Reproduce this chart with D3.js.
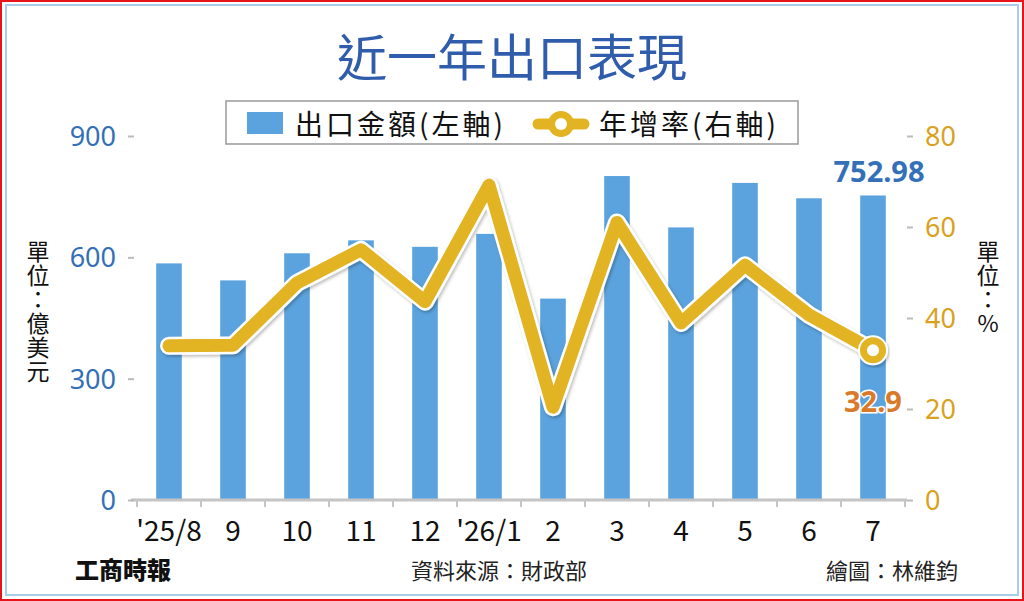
<!DOCTYPE html>
<html>
<head>
<meta charset="utf-8">
<script src="https://cdn.jsdelivr.net/npm/d3@7"></script>
<style>
  html, body { margin: 0; padding: 0; background: #fff; }
  svg { display: block; font-family: "Noto Sans CJK TC", "Noto Sans", sans-serif; }
</style>
</head>
<body>
<script>
const months = ["'25/8", "9", "10", "11", "12", "'26/1", "2", "3", "4", "5", "6", "7"]
const exportValue = [585, 543, 610, 642, 626, 658, 498, 801, 674, 784, 746, 752.98]
const growthRate = [33.9, 34.0, 47.7, 55.0, 43.6, 69.2, 20.4, 61.0, 38.9, 51.6, 40.7, 32.9]
const leftTicks = [0, 300, 600, 900]
const rightTicks = [0, 20, 40, 60, 80]

const W = 1024, H = 601
const margin = ({top: 136, right: 119, bottom: 101, left: 137})

const svg = d3.select("body").append("svg")
  .attr("width", W)
  .attr("height", H)

// drop shadow for the line
const defs = svg.append("defs")
const f = defs.append("filter").attr("id", "shadow")
  .attr("x", "-10%").attr("y", "-10%").attr("width", "120%").attr("height", "120%")
f.append("feDropShadow")
  .attr("dx", 1.5).attr("dy", 2).attr("stdDeviation", 1.5)
  .attr("flood-color", "#000").attr("flood-opacity", 0.25)

// frame
svg.append("rect").attr("x", 1).attr("y", 1).attr("width", W - 2).attr("height", H - 2)
  .attr("fill", "none").attr("stroke", "#e8141b").attr("stroke-width", 2)
svg.append("rect").attr("x", 6).attr("y", 5).attr("width", W - 12).attr("height", H - 11)
  .attr("fill", "none").attr("stroke", "#a9cde9").attr("stroke-width", 2)

// title
svg.append("text")
  .attr("x", 512).attr("y", 76)
  .attr("text-anchor", "middle")
  .style("font-size", "50px")
  .style("font-weight", 400)
  .style("fill", "#2f5dab")
  .text("近一年出口表現")

const x = d3.scaleBand()
  .domain(months)
  .range([margin.left, W - margin.right])
  .paddingInner(0.6)
  .paddingOuter(0.3)

const y = d3.scaleLinear()
  .domain([0, 900])
  .range([H - margin.bottom, margin.top])

const y2 = d3.scaleLinear()
  .domain([0, 80])
  .range([H - margin.bottom, margin.top])

// bars
svg.append("g")
  .selectAll("rect")
  .data(exportValue)
  .join("rect")
  .attr("x", (d, i) => x(months[i]))
  .attr("y", d => y(d))
  .attr("width", x.bandwidth())
  .attr("height", d => y(0) - y(d))
  .attr("fill", "#5ba3de")

// x axis line + ticks at band boundaries
const x0 = x.range()[0], x1 = x.range()[1]
const step = x.step()
const xAxis = svg.append("g")
xAxis.append("line")
  .attr("x1", x0 - 6).attr("x2", x1 + 2)
  .attr("y1", y(0)).attr("y2", y(0))
  .attr("stroke", "#c4c4c4").attr("stroke-width", 3)
xAxis.selectAll(".tk")
  .data(d3.range(months.length + 1))
  .join("line")
  .attr("x1", i => x0 + i * step)
  .attr("x2", i => x0 + i * step)
  .attr("y1", y(0)).attr("y2", y(0) + 7)
  .attr("stroke", "#c4c4c4").attr("stroke-width", 2)
xAxis.selectAll(".lbl")
  .data(months)
  .join("text")
  .attr("x", d => x(d) + x.bandwidth() / 2)
  .attr("y", 541)
  .attr("text-anchor", "middle")
  .style("font-size", "28px")
  .style("fill", "#111")
  .text(d => d)

// left axis
const yAxis = svg.append("g")
  .attr("transform", `translate(${x0 - 1},0)`)
  .call(d3.axisLeft(y).tickValues(leftTicks).tickSize(6).tickPadding(14))
yAxis.select(".domain").remove()
yAxis.selectAll(".tick line").attr("stroke", "#bbb").attr("stroke-width", 2)
  .attr("x1", -8).attr("x2", -2)
yAxis.selectAll(".tick text")
  .style("font-size", "27px")
  .style("font-family", "'Noto Sans', sans-serif")
  .attr("fill", "#3470b8")
  .attr("dy", "0.35em")

// right axis
const yAxis2 = svg.append("g")
  .attr("transform", `translate(${x1},0)`)
  .call(d3.axisRight(y2).tickValues(rightTicks).tickSize(6).tickPadding(14))
yAxis2.select(".domain").remove()
yAxis2.selectAll(".tick line").attr("stroke", "#bbb").attr("stroke-width", 2)
  .attr("x1", 2).attr("x2", 8)
yAxis2.selectAll(".tick text")
  .style("font-size", "27px")
  .style("font-family", "'Noto Sans', sans-serif")
  .attr("fill", "#d9a21e")
  .attr("dy", "0.35em")

// unit labels, vertical
svg.append("text")
  .attr("x", 38).attr("y", 240)
  .style("writing-mode", "vertical-rl")
  .style("text-orientation", "upright")
  .style("font-size", "23px")
  .style("letter-spacing", "1px")
  .style("fill", "#111")
  .text("單位：億美元")
svg.append("text")
  .attr("x", 988).attr("y", 240)
  .style("writing-mode", "vertical-rl")
  .style("text-orientation", "upright")
  .style("font-size", "23px")
  .style("letter-spacing", "1px")
  .style("fill", "#111")
  .text("單位：%")

// line
const line = d3.line()
  .x((d, i) => x(months[i]) + x.bandwidth() / 2)
  .y(d => y2(d))

svg.append("path")
  .datum(growthRate)
  .attr("d", line)
  .attr("fill", "none")
  .attr("stroke", "#fff")
  .attr("stroke-width", 18)
  .attr("stroke-linejoin", "round")
  .attr("stroke-linecap", "round")
  .attr("filter", "url(#shadow)")
svg.append("path")
  .datum(growthRate)
  .attr("d", line)
  .attr("fill", "none")
  .attr("stroke", "#e2b322")
  .attr("stroke-width", 13)
  .attr("stroke-linejoin", "round")
  .attr("stroke-linecap", "round")

// last point marker
const last = growthRate.length - 1
const lx = x(months[last]) + x.bandwidth() / 2
svg.append("circle")
  .attr("cx", lx).attr("cy", y2(growthRate[last]))
  .attr("r", 14)
  .attr("fill", "#e2b322")
  .attr("stroke", "#fff").attr("stroke-width", 2)
  .attr("filter", "url(#shadow)")
svg.append("circle")
  .attr("cx", lx).attr("cy", y2(growthRate[last]))
  .attr("r", 6)
  .attr("fill", "#fff")

// end value labels
svg.append("text")
  .attr("x", lx + 6).attr("y", y(exportValue[last]) - 13)
  .attr("text-anchor", "middle")
  .style("font-size", "29px")
  .style("font-weight", 700)
  .style("font-family", "'Noto Sans', sans-serif")
  .style("fill", "#3470b8")
  .text(d3.format(".2f")(exportValue[last]))
svg.append("text")
  .attr("x", lx).attr("y", 412)
  .attr("text-anchor", "middle")
  .style("font-size", "29px")
  .style("font-weight", 700)
  .style("font-family", "'Noto Sans', sans-serif")
  .style("fill", "#d97a2b")
  .style("stroke", "#fff").style("stroke-width", 3).style("paint-order", "stroke")
  .text(growthRate[last])

// legend
const lg = svg.append("g")
lg.append("rect")
  .attr("x", 226).attr("y", 101).attr("width", 572).attr("height", 43)
  .attr("fill", "#fff").attr("stroke", "#999").attr("stroke-width", 1.5)
lg.append("rect")
  .attr("x", 247).attr("y", 112).attr("width", 36).attr("height", 22)
  .attr("fill", "#5ba3de")
lg.append("text")
  .attr("x", 295).attr("y", 135)
  .style("font-size", "28px")
  .style("letter-spacing", "3px")
  .style("fill", "#111")
  .text("出口金額(左軸)")
lg.append("line")
  .attr("x1", 538).attr("x2", 584).attr("y1", 124).attr("y2", 124)
  .attr("stroke", "#e2b322").attr("stroke-width", 11).attr("stroke-linecap", "round")
lg.append("circle").attr("cx", 561).attr("cy", 124).attr("r", 13).attr("fill", "#e2b322")
lg.append("circle").attr("cx", 561).attr("cy", 124).attr("r", 6).attr("fill", "#fff")
lg.append("text")
  .attr("x", 599).attr("y", 135)
  .style("font-size", "28px")
  .style("letter-spacing", "3px")
  .style("fill", "#111")
  .text("年增率(右軸)")

// footer
svg.append("text")
  .attr("x", 75).attr("y", 579)
  .style("font-size", "24px")
  .style("font-weight", 900)
  .style("fill", "#111")
  .text("工商時報")
svg.append("text")
  .attr("x", 499).attr("y", 579)
  .attr("text-anchor", "middle")
  .style("font-size", "22px")
  .style("fill", "#222")
  .text("資料來源：財政部")
svg.append("text")
  .attr("x", 958).attr("y", 579)
  .attr("text-anchor", "end")
  .style("font-size", "22px")
  .style("fill", "#222")
  .text("繪圖：林維鈞")
</script>
</body>
</html>
